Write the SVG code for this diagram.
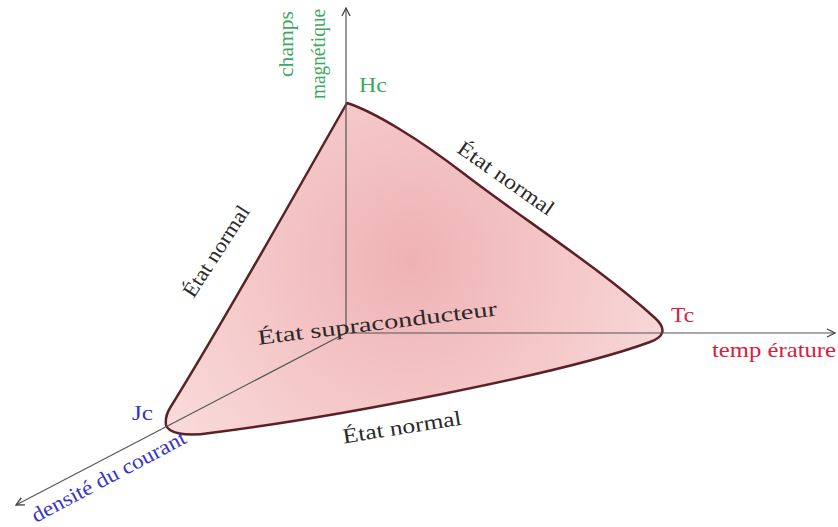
<svg xmlns="http://www.w3.org/2000/svg" width="838" height="527" viewBox="0 0 838 527">
<style>
text{font-family:"Liberation Serif","DejaVu Serif","Times New Roman",serif;font-size:21px}
.ax{stroke:#555;stroke-width:1.2;fill:none}
.blk{fill:#2a2a2a}
.grn{fill:#3fa860}
.red{fill:#d8203a}
.blu{fill:#3535c8}
</style>
<defs>
<radialGradient id="g" cx="410" cy="260" r="290" gradientUnits="userSpaceOnUse">
<stop offset="0" stop-color="#efb2b4"/>
<stop offset="1" stop-color="#f9dada"/>
</radialGradient>
<marker id="ah" viewBox="0 0 10 10" refX="9" refY="5" markerWidth="10" markerHeight="10" orient="auto" markerUnits="userSpaceOnUse">
<path d="M1,1 L9,5 L1,9" fill="none" stroke="#444" stroke-width="1.3"/>
</marker>
</defs>
<rect width="838" height="527" fill="#fff"/>
<g id="surface">
<path d="M347,103 C375,112 420,140 463,173 C520,217 600,268 655,318 C667,329 664,337 650,342 C560,375 330,418 210,433 C185,437 168,433 166,425 C165,418 167,413 170,408 C225,320 300,185 347,103 Z" fill="url(#g)" stroke="#5a2226" stroke-width="2.5" stroke-linejoin="round"/>
</g>
<g id="connectors">
<line class="ax" x1="346" y1="333" x2="346" y2="8" marker-end="url(#ah)"/>
<line class="ax" x1="346" y1="333" x2="835" y2="333" marker-end="url(#ah)"/>
<line class="ax" x1="346" y1="333" x2="16" y2="505" marker-end="url(#ah)"/>
</g>
<g id="axis-h">
<text class="grn" transform="translate(293,44) rotate(-90)" text-anchor="middle" textLength="66" lengthAdjust="spacingAndGlyphs">champs</text>
<text class="grn" transform="translate(325,54) rotate(-90)" text-anchor="middle" textLength="90" lengthAdjust="spacingAndGlyphs">magnétique</text>
<text class="grn" x="359" y="92" textLength="28" lengthAdjust="spacingAndGlyphs">Hc</text>
</g>
<g id="axis-t">
<text class="red" x="671" y="322" textLength="23" lengthAdjust="spacingAndGlyphs">Tc</text>
<text class="red" x="712" y="357" textLength="124" lengthAdjust="spacingAndGlyphs">temp érature</text>
</g>
<g id="axis-j">
<text class="blu" x="132" y="420" font-size="19" textLength="21" lengthAdjust="spacingAndGlyphs">Jc</text>
<text class="blu" transform="translate(36,523) rotate(-28)" textLength="172" lengthAdjust="spacingAndGlyphs">densité du courant</text>
</g>
<g id="labels">
<text class="blk" transform="translate(502,184) rotate(35)" text-anchor="middle" textLength="113" lengthAdjust="spacingAndGlyphs">État normal</text>
<text class="blk" transform="translate(222,255) rotate(-57)" text-anchor="middle" textLength="105" lengthAdjust="spacingAndGlyphs">État normal</text>
<text class="blk" transform="translate(378,330) rotate(-7)" text-anchor="middle" textLength="241" lengthAdjust="spacingAndGlyphs">État supraconducteur</text>
<text class="blk" transform="translate(403,434) rotate(-9)" text-anchor="middle" textLength="120" lengthAdjust="spacingAndGlyphs">État normal</text>
</g>
</svg>
